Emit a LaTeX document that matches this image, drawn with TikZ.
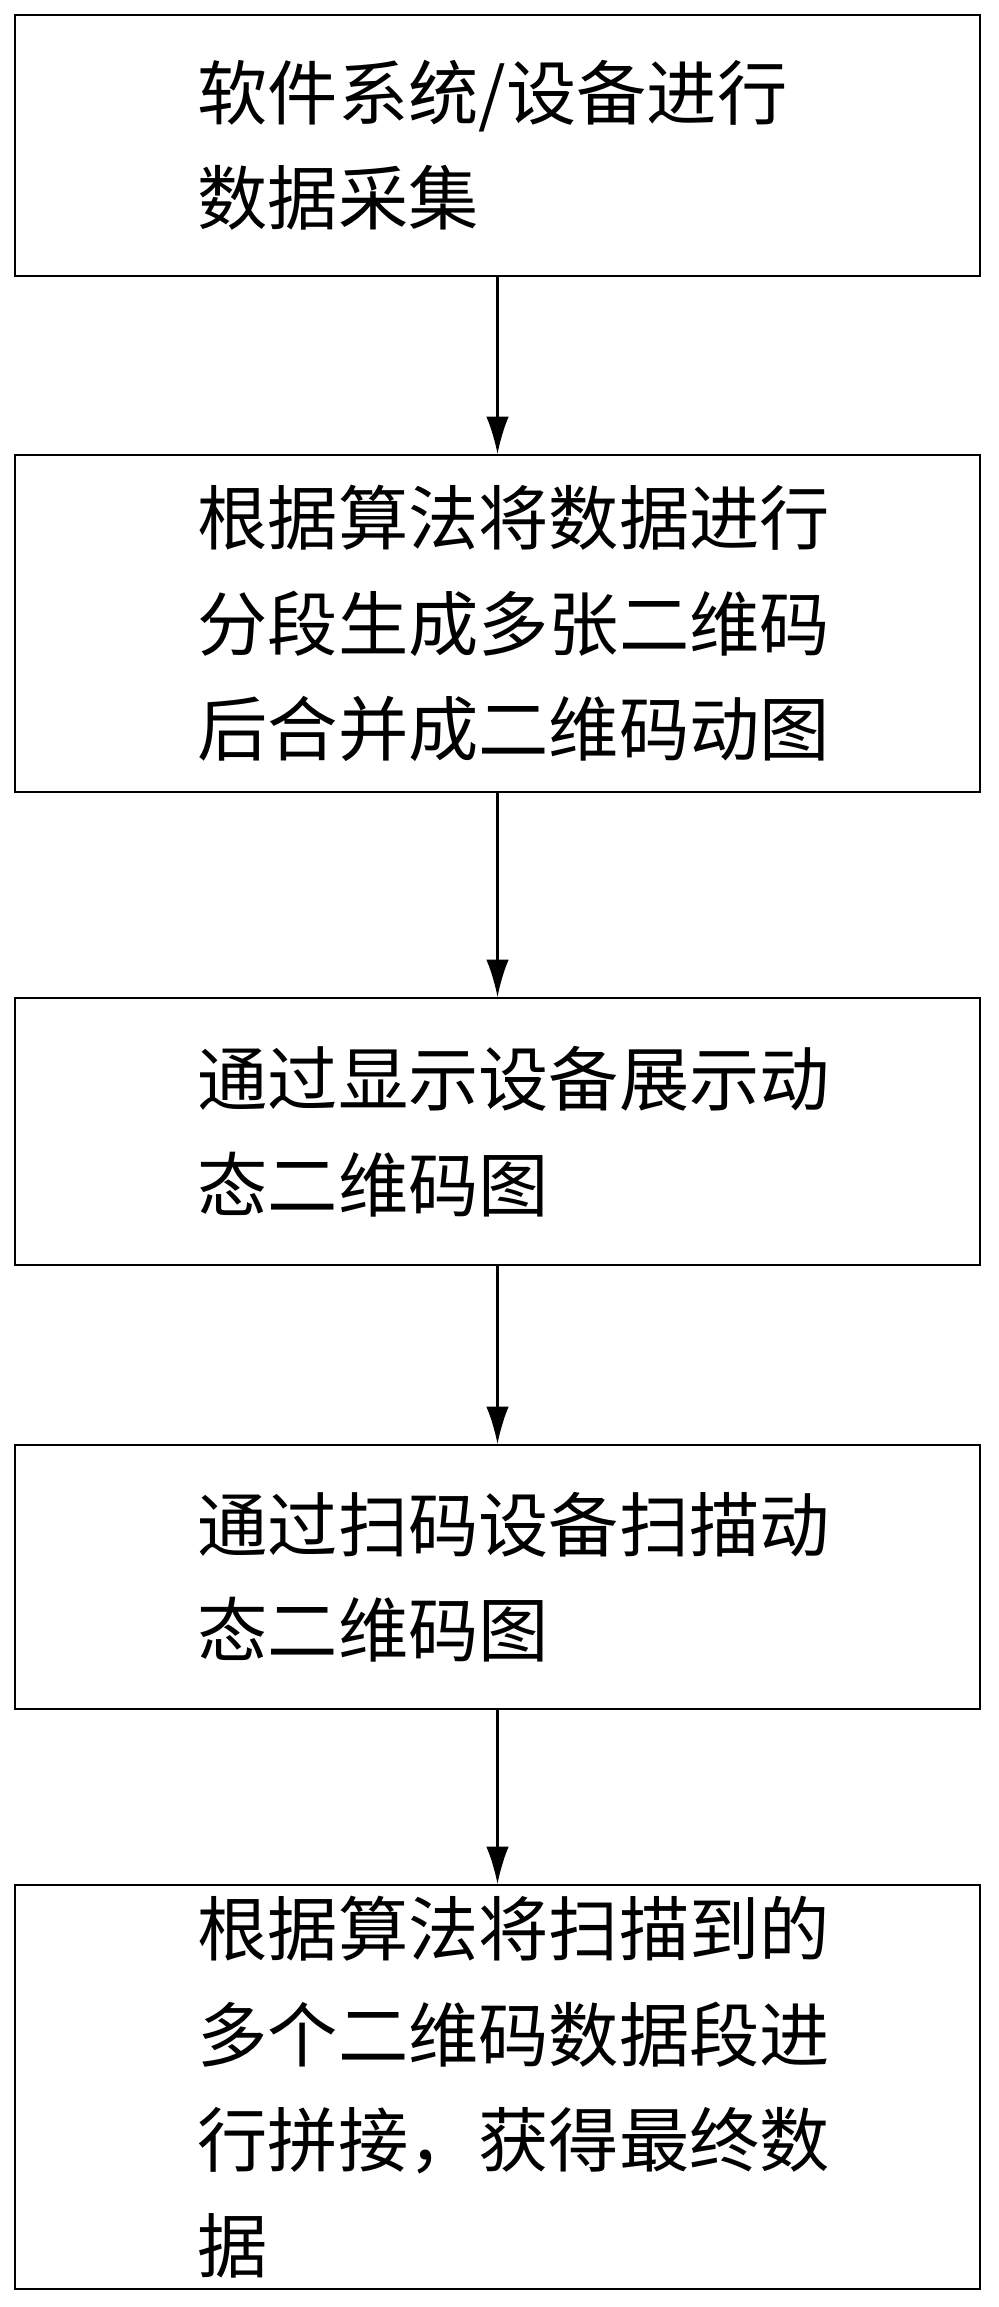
\documentclass[tikz,border=0pt]{standalone}
\usepackage{fontspec}
\newfontfamily\cjk{Noto Sans CJK SC}
\usetikzlibrary{arrows.meta}
\begin{document}
\begin{tikzpicture}[every node/.style={draw=black,line width=1pt,rectangle,minimum width=19.3cm},
            step/.style={label={[draw=none,text width=12.8cm,align=left,xshift=0.4cm,font=\cjk\fontsize{40}{60}\selectfont]center:#1}}]
            \useasboundingbox (0,0) rectangle (19.96,-46.14);
            \node[minimum height=5.22cm,step={软件系统/设备进行\\数据采集}] (C) at (9.95,-2.91) {};
            \node[minimum height=6.74cm,step={根据算法将数据进行\\分段生成多张二维码\\后合并成二维码动图}] (S) at (9.95,-12.47) {};
            \node[minimum height=5.34cm,step={通过显示设备展示动\\态二维码图}] (D) at (9.95,-22.63) {};
            \node[minimum height=5.28cm,step={通过扫码设备扫描动\\态二维码图}] (R) at (9.95,-31.54) {};
            \node[minimum height=8.08cm,step={根据算法将扫描到的\\多个二维码数据段进\\行拼接，获得最终数\\据}] (J) at (9.95,-41.74) {};

            \path [-{Latex[length=0.75cm,width=0.45cm]},line width=1.4pt] (C) edge (S);
            \path [-{Latex[length=0.75cm,width=0.45cm]},line width=1.4pt] (S) edge (D);
            \path [-{Latex[length=0.75cm,width=0.45cm]},line width=1.4pt] (D) edge (R);
            \path [-{Latex[length=0.75cm,width=0.45cm]},line width=1.4pt] (R) edge (J);
        \end{tikzpicture}
\end{document}
